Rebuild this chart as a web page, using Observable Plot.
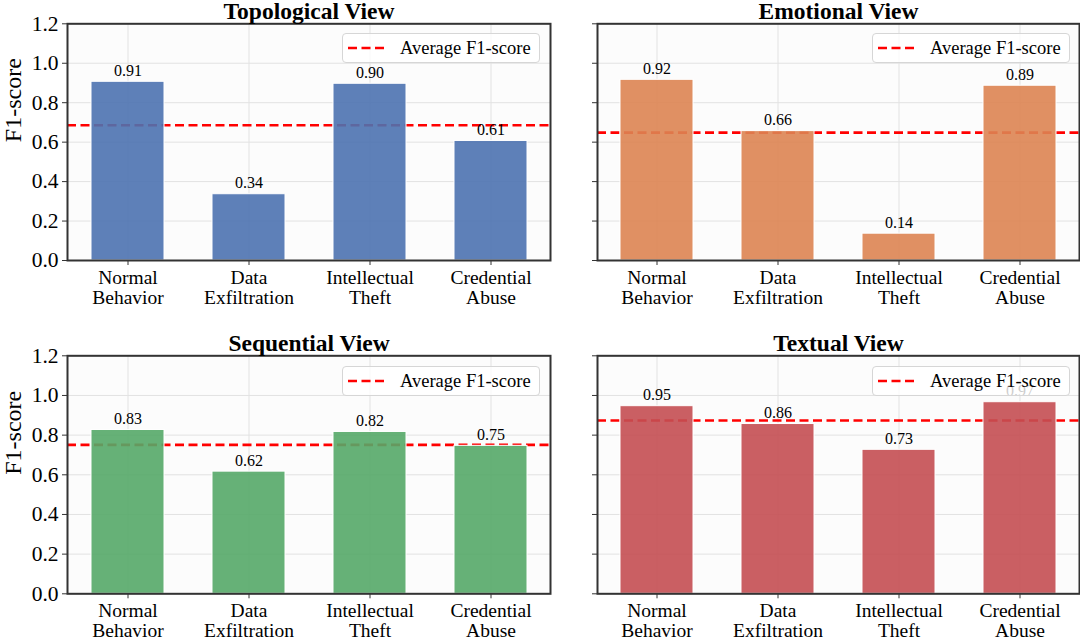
<!DOCTYPE html>
<html><head><meta charset="utf-8">
<script src="https://cdn.jsdelivr.net/npm/d3@7"></script>
<script src="https://cdn.jsdelivr.net/npm/@observablehq/plot@0.6"></script>
<style>
body{margin:0;background:#fff;}
#fig{position:relative;width:1080px;height:642px;overflow:hidden;font-family:"Liberation Serif","Times New Roman",serif;background:#fff;}
.panel{position:absolute;}
.panel svg{overflow:visible;}
.legend{position:absolute;width:198px;height:30px;background:rgba(255,255,255,0.8);border:1px solid #d6d6d6;border-radius:4px;display:flex;align-items:center;font-size:18.5px;color:#000;box-sizing:border-box;font-family:"Liberation Serif","Times New Roman",serif;}
.legend svg{margin-left:5px;}
.legend span{margin-left:14px;white-space:nowrap;}
</style></head><body><div id="fig"></div>
<script>
const categories = ["Normal Behavior", "Data Exfiltration", "Intellectual Theft", "Credential Abuse"];
const viewTitles = ["Topological View", "Emotional View", "Sequential View", "Textual View"];
const topological = [0.906, 0.336, 0.896, 0.606];
const emotional = [0.916, 0.656, 0.136, 0.886];
const sequential = [0.826, 0.616, 0.816, 0.746];
const textual = [0.946, 0.856, 0.726, 0.966];
const barColors = ["#4c72b0", "#dd8452", "#55a868", "#c44e52"];
const yTicks = [0, 0.2, 0.4, 0.6, 0.8, 1.0, 1.2];
const legendLabel = "Average F1-score";
const yLabel = "F1-score";

const seriesList = [topological, emotional, sequential, textual];
const boxes = [
  {left: 0,   top: 0,   w: 560, h: 321, ml: 67, mr: 10, mt: 23.3, mb: 61,   showY: true,  lx: 342, ly: 33},
  {left: 560, top: 0,   w: 520, h: 321, ml: 37, mr: 1,  mt: 23.3, mb: 61,   showY: false, lx: 872, ly: 33},
  {left: 0,   top: 321, w: 560, h: 321, ml: 67, mr: 10, mt: 34.3, mb: 48.7, showY: true,  lx: 342, ly: 366},
  {left: 560, top: 321, w: 520, h: 321, ml: 37, mr: 1,  mt: 34.3, mb: 48.7, showY: false, lx: 872, ly: 366}
];

const fig = document.getElementById("fig");

function makePanel(title, values, color, b) {
  const data = categories.map((c, i) => ({cat: c, val: values[i]}));
  const avg = d3.mean(values);
  const marks = [
    Plot.frame({fill: "#fcfcfc"}),
    Plot.gridY(yTicks, {stroke: "#e2e2e2", strokeOpacity: 1, strokeWidth: 1}),
    Plot.gridX({stroke: "#e2e2e2", strokeOpacity: 1, strokeWidth: 1}),
    Plot.ruleY([avg], {stroke: "#ff0000", strokeWidth: 2.6, strokeDasharray: "9,4.5"}),
    Plot.barY(data, {x: "cat", y: "val", fill: color, fillOpacity: 0.9, stroke: "#ffffff", strokeWidth: 1}),
    Plot.text(data, {x: "cat", y: "val", text: d => d.val.toFixed(2), dy: -11, fontSize: 16, fill: "#000"}),
    Plot.axisX({tickSize: 5, tickPadding: 4, fontSize: 19.5, lineHeight: 1.03, stroke: "#333", fill: "#000",
      tickFormat: d => d.replace(" ", "\n"), label: null}),
    Plot.axisY({ticks: yTicks, tickSize: 5, tickPadding: 4, fontSize: 21.5, stroke: "#333", fill: "#000",
      tickFormat: b.showY ? (d => d.toFixed(1)) : (() => ""), label: null}),
    Plot.frame({stroke: "#333", strokeWidth: 2}),
    Plot.text([title], {text: d => d, frameAnchor: "top", dy: -5, lineAnchor: "bottom", fontSize: 23.5, fontWeight: "bold", fill: "#000"})
  ];
  if (b.showY) {
    marks.push(Plot.text([yLabel], {text: d => d, frameAnchor: "left", dx: -54, rotate: -90, fontSize: 24, fill: "#000"}));
  }
  return Plot.plot({
    width: b.w, height: b.h,
    marginLeft: b.ml, marginRight: b.mr, marginTop: b.mt, marginBottom: b.mb,
    style: {fontFamily: "Liberation Serif, Times New Roman, serif", background: "transparent", color: "#000", overflow: "visible"},
    x: {domain: categories, type: "band", paddingInner: 0.4, paddingOuter: 0.18, label: null},
    y: {domain: [0, 1.2], label: null},
    marks
  });
}

viewTitles.forEach((title, i) => {
  const b = boxes[i];
  const wrap = document.createElement("div");
  wrap.className = "panel";
  wrap.style.left = b.left + "px";
  wrap.style.top = b.top + "px";
  wrap.appendChild(makePanel(title, seriesList[i], barColors[i], b));
  fig.appendChild(wrap);
  const lg = document.createElement("div");
  lg.className = "legend";
  lg.style.left = b.lx + "px";
  lg.style.top = b.ly + "px";
  lg.innerHTML = '<svg width="38" height="6"><line x1="0" y1="3" x2="38" y2="3" stroke="#ff0000" stroke-width="2.6" stroke-dasharray="9,4.5"/></svg><span>' + legendLabel + '</span>';
  fig.appendChild(lg);
});
</script>
</body></html>
